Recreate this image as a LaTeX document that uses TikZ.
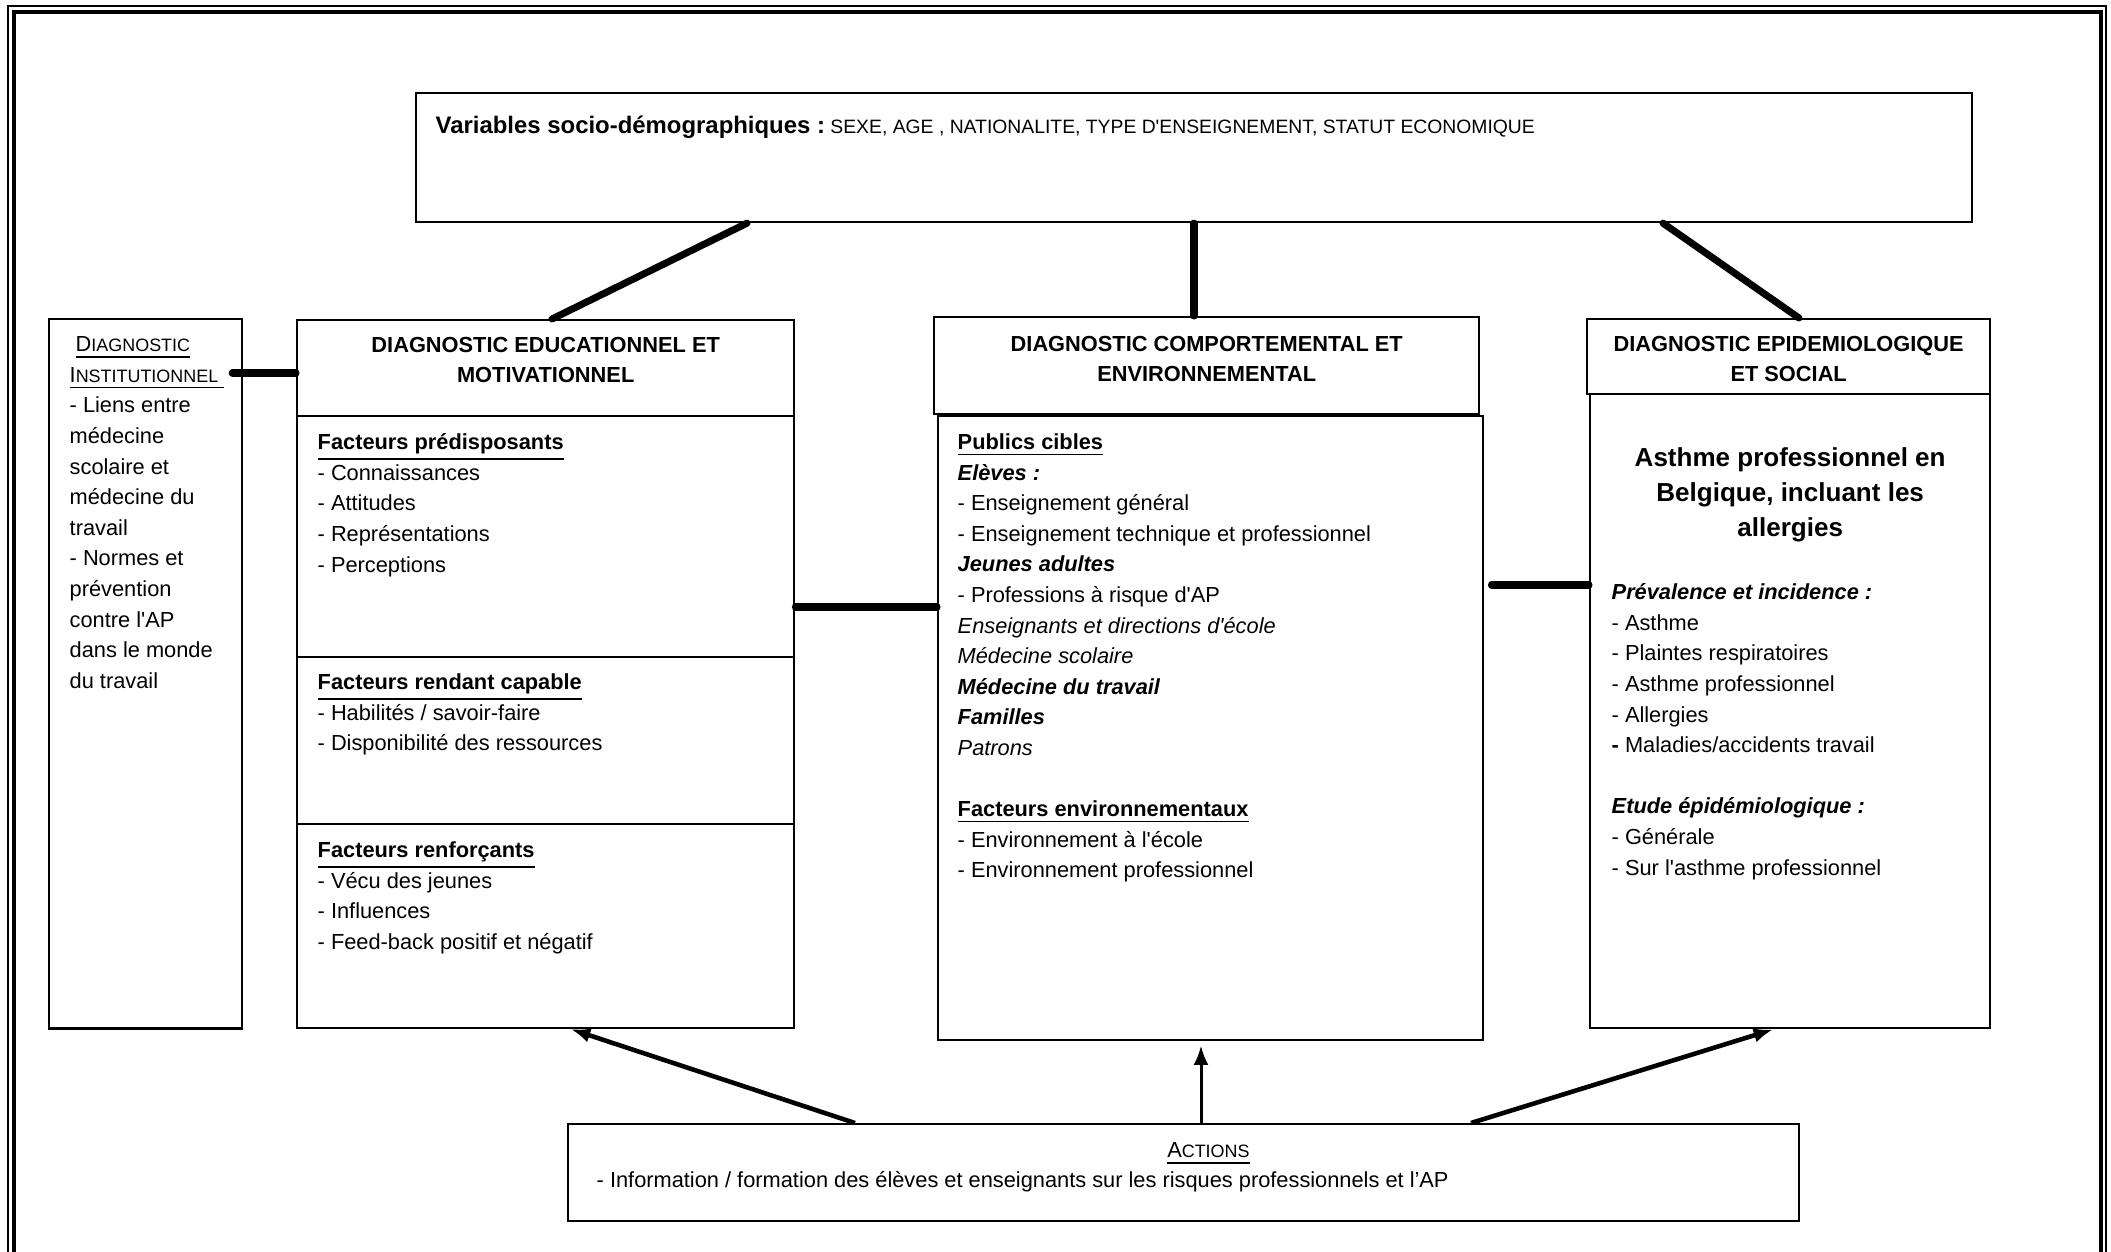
\documentclass[tikz,border=0pt]{standalone}
\usepackage{fontspec}
\setmainfont{Liberation Sans}
\usetikzlibrary{arrows.meta}

\newcommand{\fakesc}[2]{{\fontsize{6.2}{8.7}\selectfont #1}{\fontsize{5.1}{8.7}\selectfont #2}}
\newcommand{\sq}{\textquotesingle}

\tikzset{
  box/.style={draw, line width=0.6pt, anchor=north west, inner sep=0pt},
  hdtxt/.style={font=\fontsize{6.2}{8.5}\selectfont\bfseries, align=center, inner sep=0pt},
  bodytxt/.style={font=\fontsize{6.2}{8.7}\selectfont, align=left, anchor=north west, inner sep=0pt, execute at begin node=\strut},
  bar/.style={line width=2pt, line cap=round},
  push/.style={line width=1.3pt, -{Latex[length=5.5pt,width=4.2pt]}},
}

\begin{document}
\begin{tikzpicture}[x=0.01cm, y=-0.01cm]
  \useasboundingbox (0,0) rectangle (2111,1252);
  \fill[white] (0,0) rectangle (2111,1252);
  \draw[line width=0.6pt] (8,1252) -- (8,6) -- (2106,6) -- (2106,1252);
  \draw[line width=0.9pt] (14,1252) -- (14,12) -- (2101,12) -- (2101,1252);

  \node[box, minimum width=15.55cm, minimum height=1.29cm] (var) at (415,92) {};
  \node[box, minimum width=1.93cm, minimum height=7.09cm] (inst) at (48,318) {};
  \node[box, minimum width=4.97cm, minimum height=0.96cm] (eduhd) at (296,319) {};
  \node[box, minimum width=4.97cm, minimum height=2.41cm] (edu1) at (296,415) {};
  \node[box, minimum width=4.97cm, minimum height=1.67cm] (edu2) at (296,656) {};
  \node[box, minimum width=4.97cm, minimum height=2.04cm] (edu3) at (296,823) {};
  \node[box, minimum width=5.45cm, minimum height=0.97cm] (comphd) at (933,316) {};
  \node[box, minimum width=5.45cm, minimum height=6.24cm] (comp) at (937,415) {};
  \node[box, minimum width=4.03cm, minimum height=0.75cm] (epihd) at (1586,318) {};
  \node[box, minimum width=4.00cm, minimum height=6.34cm] (epi) at (1589,393) {};
  \node[box, minimum width=12.30cm, minimum height=0.97cm] (act) at (567,1123) {};

  \node[anchor=base west, inner sep=0pt] (vartxt) at ([shift={(20,42)}]var.north west)
    {{\fontsize{6.8}{8}\selectfont\bfseries Variables socio-démographiques :}{\fontsize{5.5}{8}\selectfont\ SEXE, AGE , NATIONALITE, TYPE D\sq ENSEIGNEMENT, STATUT ECONOMIQUE}};

  \node[bodytxt] (insttxt) at ([shift={(21,18)}]inst.north west)
    {\hspace*{0.06cm}\underline{\fakesc{D}{IAGNOSTIC}}\\\underline{\fakesc{I}{NSTITUTIONNEL}\ }\\- Liens entre\\médecine\\scolaire et\\médecine du\\travail\\- Normes et\\prévention\\contre l\sq AP\\dans le monde\\du travail};

  \node[hdtxt] (eduhdtxt) at ([shift={(0,41)}]eduhd.north) {DIAGNOSTIC EDUCATIONNEL ET\\MOTIVATIONNEL};
  \node[bodytxt] (edu1txt) at ([shift={(21,18)}]edu1.north west)
    {\underline{\textbf{Facteurs prédisposants}}\\- Connaissances\\- Attitudes\\- Représentations\\- Perceptions};
  \node[bodytxt] (edu2txt) at ([shift={(21,17)}]edu2.north west)
    {\underline{\textbf{Facteurs rendant capable}}\\- Habilités / savoir-faire\\- Disponibilité des ressources};
  \node[bodytxt] (edu3txt) at ([shift={(21,18)}]edu3.north west)
    {\underline{\textbf{Facteurs renforçants}}\\- Vécu des jeunes\\- Influences\\- Feed-back positif et négatif};

  \node[hdtxt] (comphdtxt) at ([shift={(0,43)}]comphd.north) {DIAGNOSTIC COMPORTEMENTAL ET\\ENVIRONNEMENTAL};
  \node[bodytxt] (comptxt) at ([shift={(20,18)}]comp.north west)
    {\underline{\textbf{Publics cibles}}\\
     \textbf{\textit{Elèves :}}\\
     - Enseignement général\\
     - Enseignement technique et professionnel\\
     \textbf{\textit{Jeunes adultes}}\\
     - Professions à risque d\sq AP\\
     \textit{Enseignants et directions d\sq école}\\
     \textit{Médecine scolaire}\\
     \textbf{\textit{Médecine du travail}}\\
     \textbf{\textit{Familles}}\\
     \textit{Patrons}\\[8.7pt]
     \underline{\textbf{Facteurs environnementaux}}\\
     - Environnement à l\sq école\\
     - Environnement professionnel};

  \node[hdtxt] (epihdtxt) at ([shift={(0,41)}]epihd.north) {DIAGNOSTIC EPIDEMIOLOGIQUE\\ET SOCIAL};
  \node[font=\fontsize{7.4}{9.96}\selectfont\bfseries, align=center, inner sep=0pt] (epititle) at ([shift={(0,102)}]epi.north)
    {Asthme professionnel en\\Belgique, incluant les\\allergies};
  \node[bodytxt] (epitxt) at ([shift={(22,190)}]epi.north west)
    {\textbf{\textit{Prévalence et incidence :}}\\
     - Asthme\\
     - Plaintes respiratoires\\
     - Asthme professionnel\\
     - Allergies\\
     \textbf{-} Maladies/accidents travail\\[8.7pt]
     \textbf{\textit{Etude épidémiologique :}}\\
     - Générale\\
     - Sur l\sq asthme professionnel};

  \node[inner sep=0pt] (acttitle) at ([shift={(25,31)}]act.north) {\underline{\fakesc{A}{CTIONS}}};
  \node[bodytxt] (acttxt) at ([shift={(29,42)}]act.north west)
    {- Information / formation des élèves et enseignants sur les risques professionnels et l’AP};

  \coordinate (instout) at ([shift={(-11,55)}]inst.north east);
  \coordinate (eduout) at ([shift={(0,192)}]edu1.north east);
  \coordinate (compout) at ([shift={(7,170)}]comp.north east);
  \coordinate (actmid) at ([shift={(634,0)}]act.north west);

  \draw[bar] ([shift={(332,0)}]var.south west) -- ([shift={(256,0)}]eduhd.north west);
  \draw[bar] (var.south) -- (var.south |- comphd.north);
  \draw[bar] ([shift={(1248,0)}]var.south west) -- ([shift={(213,0)}]epihd.north west);
  \draw[bar] (instout) -- (instout -| eduhd.west);
  \draw[bar] (eduout) -- (eduout -| comp.west);
  \draw[bar] (compout) -- (compout -| epi.west);

  \draw[push] ([shift={(288,0)}]act.north west) -- ([shift={(275,0)}]edu3.south west);
  \draw[push, line width=0.85pt, shorten >=0.04cm] (actmid) -- (actmid |- comp.south);
  \draw[push] ([shift={(904,0)}]act.north west) -- ([shift={(184,0)}]epi.south west);
\end{tikzpicture}
\end{document}
